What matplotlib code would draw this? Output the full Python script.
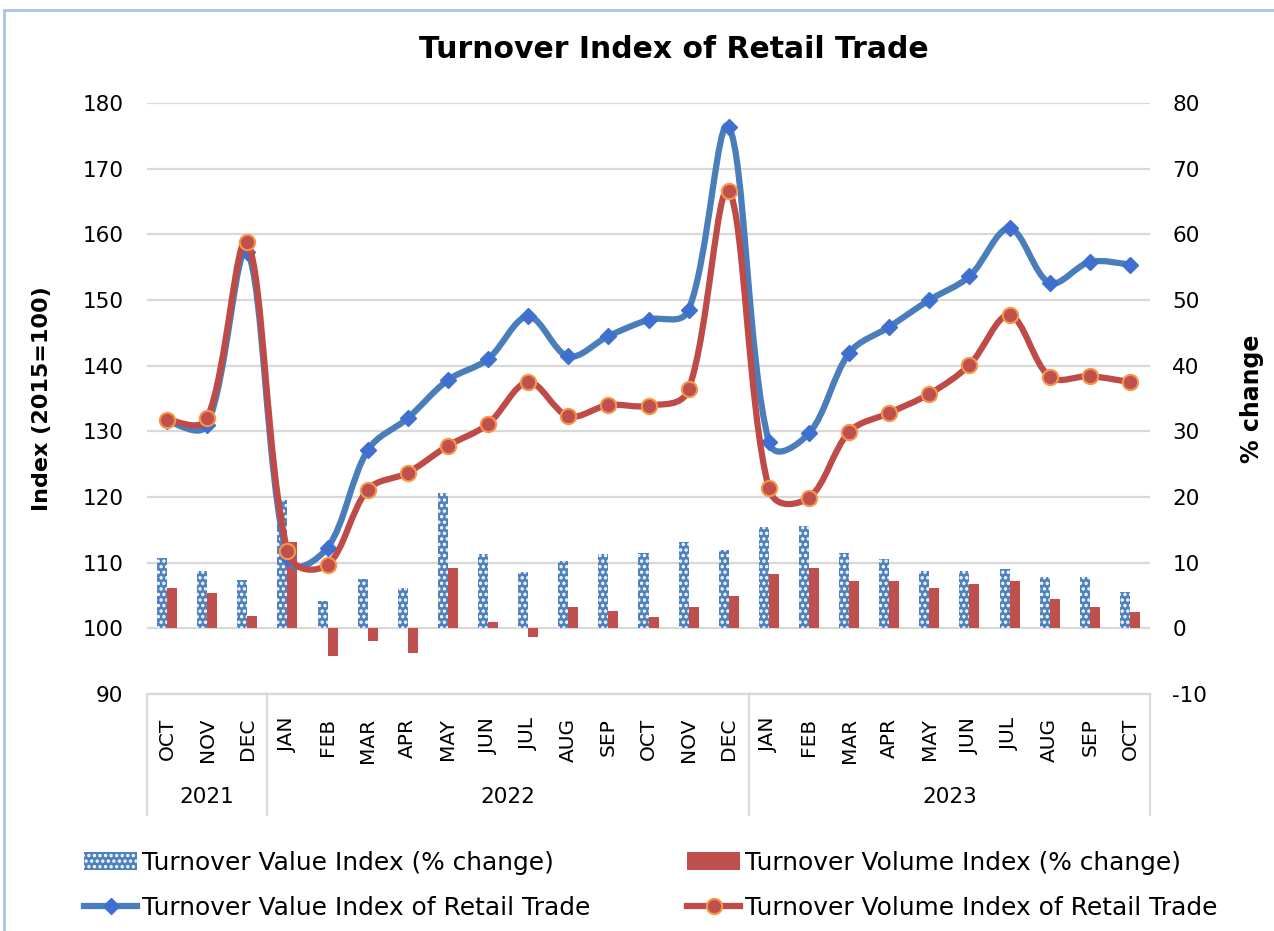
import numpy as np
import matplotlib.pyplot as plt
from matplotlib.path import Path
from matplotlib.patches import PathPatch, Rectangle, Patch
from matplotlib.lines import Line2D

plt.rcParams["font.family"] = ["DejaVu Sans"]
plt.rcParams["hatch.linewidth"] = 1.6
plt.rcParams["axes.unicode_minus"] = False

# Data
months = ["OCT", "NOV", "DEC",
          "JAN", "FEB", "MAR", "APR", "MAY", "JUN", "JUL", "AUG", "SEP", "OCT", "NOV", "DEC",
          "JAN", "FEB", "MAR", "APR", "MAY", "JUN", "JUL", "AUG", "SEP", "OCT"]
years = ["2021", "2022", "2023"]
year_counts = [3, 12, 10]

value_index = [131.6, 131.0, 157.3,
               110.8, 112.3, 127.1, 132.0, 137.8, 141.0, 147.5, 141.4, 144.5, 147.0, 148.5, 176.4,
               128.4, 129.7, 141.9, 145.9, 150.0, 153.6, 160.9, 152.6, 155.8, 155.4]
volume_index = [131.8, 132.0, 158.8,
                111.8, 109.7, 121.1, 123.7, 127.8, 131.1, 137.5, 132.3, 134.0, 133.9, 136.4, 166.6,
                121.3, 119.9, 129.9, 132.8, 135.7, 140.1, 147.7, 138.3, 138.4, 137.5]
value_pct = [10.7, 8.8, 7.4,
             19.5, 4.1, 7.5, 6.2, 20.6, 11.3, 8.6, 10.3, 11.3, 11.5, 13.2, 11.9,
             15.4, 15.6, 11.5, 10.5, 8.8, 8.8, 9.0, 7.8, 7.8, 5.6]
volume_pct = [6.2, 5.4, 1.9,
              13.2, -4.2, -1.9, -3.8, 9.2, 0.9, -1.3, 3.3, 2.7, 1.7, 3.3, 4.9,
              8.2, 9.2, 7.2, 7.2, 6.2, 6.8, 7.2, 4.5, 3.3, 2.5]

BLUE_BAR = "#4f81bd"
RED_BAR = "#c0504d"
BLUE_LINE = "#4a7ebb"
RED_LINE = "#be4b48"
GRID = "#d9d9d9"


def smooth_path(xs, ys, yscale, mix=0.25):
    """Excel-style smoothed line: cubic Bezier through the points, with
    control arms mostly proportional to the neighbouring segment lengths."""
    pts = np.column_stack([xs, ys]).astype(float)
    scr = pts * [1.0, yscale]
    n = len(pts)
    seg = np.hypot(*np.diff(scr, axis=0).T)
    verts = [pts[0]]
    codes = [Path.MOVETO]
    for i in range(n - 1):
        p0 = pts[max(i - 1, 0)]
        p1 = pts[i]
        p2 = pts[i + 1]
        p3 = pts[min(i + 2, n - 1)]
        d01 = seg[i - 1] if i > 0 else seg[i]
        d12 = seg[i]
        d23 = seg[i + 1] if i + 1 < n - 1 else seg[i]
        f1 = (1 - mix) * d12 / (d01 + d12) + mix * 0.5
        f2 = (1 - mix) * d12 / (d12 + d23) + mix * 0.5
        c1 = p1 + (p2 - p0) * f1 / 3.0
        c2 = p2 - (p3 - p1) * f2 / 3.0
        verts += [c1, c2, p2]
        codes += [Path.CURVE4] * 3
    return Path(verts, codes)


x = np.arange(len(months))

fig = plt.figure(figsize=(12.74, 9.31), dpi=100)
ax = fig.add_axes([147 / 1274, 1 - 694 / 931, (1150 - 147) / 1274, (694 - 103) / 931])
ax2 = ax.twinx()

# bars on the right (% change) axis, drawn behind the lines
ax2.set_zorder(1)
ax.set_zorder(2)
ax.patch.set_visible(False)

w = 0.25
ax2.bar(x - w / 2, value_pct, w, color=BLUE_BAR, edgecolor="white", linewidth=0,
        hatch="...", zorder=2)
ax2.bar(x + w / 2, volume_pct, w, color=RED_BAR, linewidth=0, zorder=2)
ax2.set_ylim(-10, 80)
ax2.set_yticks(range(-10, 81, 10))

# lines on the left (index) axis; ysc = pixels per index unit / pixels per category
ysc = 6.57 / 40.1
ax.add_patch(PathPatch(smooth_path(x, value_index, ysc), fill=False, edgecolor=BLUE_LINE,
                       linewidth=4.5, capstyle="round", joinstyle="round", zorder=3))
ax.plot(x, value_index, linestyle="None", marker="D", markersize=8,
        color="#3f6fcf", zorder=4)
ax.add_patch(PathPatch(smooth_path(x, volume_index, ysc), fill=False, edgecolor=RED_LINE,
                       linewidth=4.5, capstyle="round", joinstyle="round", zorder=5))
ax.plot(x, volume_index, linestyle="None", marker="o", markersize=11,
        markerfacecolor=RED_BAR, markeredgecolor="#f79646", markeredgewidth=1.5, zorder=6)

ax.set_xlim(-0.5, len(months) - 0.5)
ax.set_ylim(90, 180)
ax.set_yticks(range(90, 181, 10))
ax2.grid(axis="y", color=GRID, linewidth=1.6)
ax2.set_axisbelow(True)

for a in (ax, ax2):
    for s in a.spines.values():
        s.set_visible(False)
    a.tick_params(length=0, labelsize=15.5, colors="black")
ax.tick_params(axis="y", pad=17)
ax2.tick_params(axis="y", pad=16)
ax.set_xticks([])

ax.set_ylabel("Index (2015=100)", fontsize=16, fontweight="bold", labelpad=22)
ax2.set_ylabel("% change", fontsize=17, fontweight="bold", labelpad=24)

# multi-level category axis
box_bottom = -0.205
ax.plot([-0.5, len(months) - 0.5], [0, 0], transform=ax.get_xaxis_transform(),
        color=GRID, linewidth=1.6, clip_on=False)
for i, m in enumerate(months):
    ax.text(i, -0.04, m, rotation=90, ha="center", va="top", fontsize=14.5,
            transform=ax.get_xaxis_transform())
start = 0
bounds = [-0.5]
for yr, cnt in zip(years, year_counts):
    end = start + cnt
    ax.text((start + end - 1) / 2, -0.175, yr, ha="center", va="center", fontsize=15.5,
            transform=ax.get_xaxis_transform())
    bounds.append(end - 0.5)
    start = end
for b in bounds:
    ax.plot([b, b], [0, box_bottom], transform=ax.get_xaxis_transform(),
            color=GRID, linewidth=1.6, clip_on=False)

fig.text(674 / 1274, 1 - 50 / 931, "Turnover Index of Retail Trade", ha="center",
         va="center", fontsize=21.5, fontweight="bold")

# legends (two columns)
h_vbar = Patch(facecolor=BLUE_BAR, edgecolor="white", hatch="...", linewidth=0)
h_rbar = Patch(facecolor=RED_BAR, linewidth=0)
h_vline = Line2D([], [], color=BLUE_LINE, linewidth=4.5, marker="D", markersize=8,
                 markerfacecolor="#3f6fcf", markeredgecolor="#3f6fcf")
h_rline = Line2D([], [], color=RED_LINE, linewidth=4.5, marker="o", markersize=11,
                 markerfacecolor=RED_BAR, markeredgecolor="#f79646", markeredgewidth=1.5)
leg_kw = dict(frameon=False, fontsize=17.9, handlelength=2.15, handletextpad=0.2,
              labelspacing=0.85, loc="upper left", borderpad=0.3)
fig.legend([h_vbar, h_vline],
           ["Turnover Value Index (% change)", "Turnover Value Index of Retail Trade"],
           bbox_to_anchor=(64 / 1274, 1 - 831 / 931), **leg_kw)
fig.legend([h_rbar, h_rline],
           ["Turnover Volume Index (% change)", "Turnover Volume Index of Retail Trade"],
           bbox_to_anchor=(667 / 1274, 1 - 831 / 931), **leg_kw)

# chart border
fig.patches.append(Rectangle((4 / 1274, -0.05), 1.1, 1.05 - 10 / 931,
                             transform=fig.transFigure, fill=False,
                             edgecolor="#a9c4e6", linewidth=2))

fig.savefig("out.png", dpi=100)
